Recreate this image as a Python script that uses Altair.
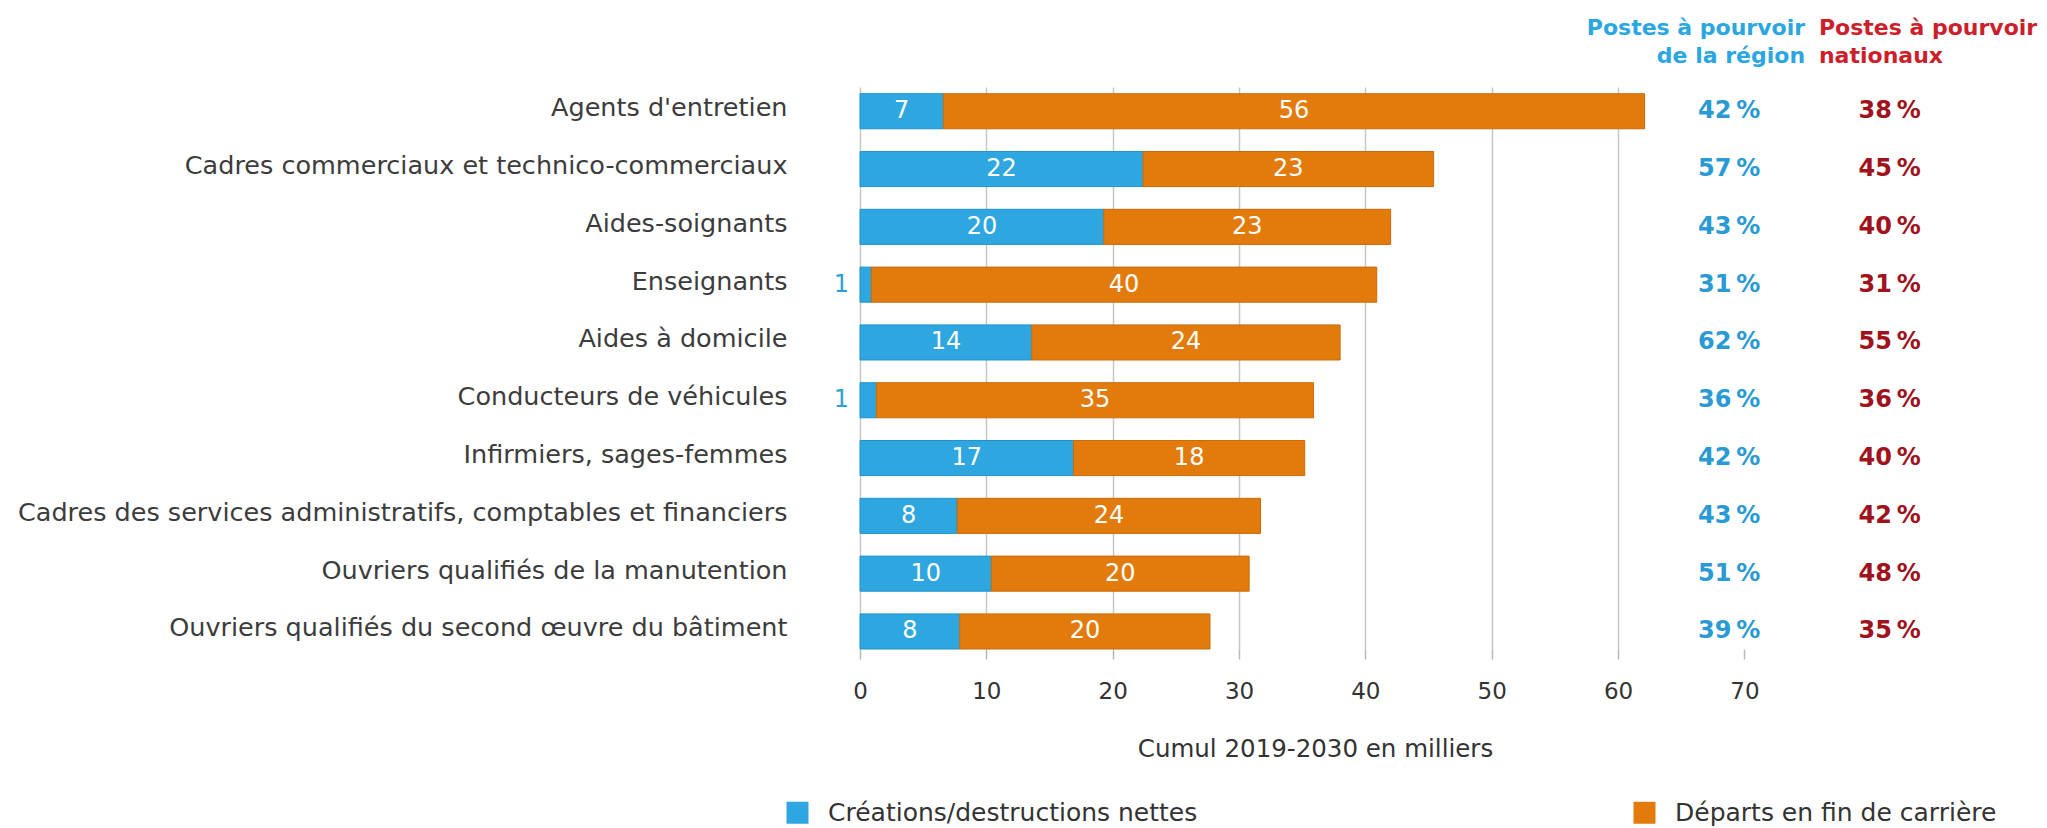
import altair as alt
import pandas as pd

occupations = [
    "Agents d'entretien",
    "Cadres commerciaux et technico-commerciaux",
    "Aides-soignants",
    "Enseignants",
    "Aides à domicile",
    "Conducteurs de véhicules",
    "Infirmiers, sages-femmes",
    "Cadres des services administratifs, comptables et financiers",
    "Ouvriers qualifiés de la manutention",
    "Ouvriers qualifiés du second œuvre du bâtiment",
]
creations = [6.6, 22.4, 19.3, 0.9, 13.6, 1.3, 16.9, 7.7, 10.4, 7.9]
departs = [55.5, 23.0, 22.7, 40.0, 24.4, 34.6, 18.3, 24.0, 20.4, 19.8]
creations_labels = [7, 22, 20, 1, 14, 1, 17, 8, 10, 8]
departs_labels = [56, 23, 23, 40, 24, 35, 18, 24, 20, 20]
region_pct = [42, 57, 43, 31, 62, 36, 42, 43, 51, 39]
national_pct = [38, 45, 40, 31, 55, 36, 40, 42, 48, 35]
series_names = ["Créations/destructions nettes", "Départs en fin de carrière"]
series_colors = ["#2ea7e0", "#e27b0b"]
stroke_colors = ["#2193c9", "#c96b08"]
x_ticks = [0, 10, 20, 30, 40, 50, 60, 70]
header_region = ["Postes à pourvoir", "de la région"]
header_national = ["Postes à pourvoir", "nationaux"]
axis_title = "Cumul 2019-2030 en milliers"

rows = []
for i, occ in enumerate(occupations):
    rows.append(dict(occ=occ, series=series_names[0], k=0, value=creations[i], label=str(creations_labels[i])))
    rows.append(dict(occ=occ, series=series_names[1], k=1, value=departs[i], label=str(departs_labels[i])))
df = pd.DataFrame(rows)

pct_df = pd.DataFrame({
    "occ": occupations,
    "region": [f"{v}\u202f%" for v in region_pct],
    "national": [f"{v}\u202f%" for v in national_pct],
})
one = pd.DataFrame({"a": [0]})

FONT = "DejaVu Sans"
W, H = 1175, 562

x_scale = alt.Scale(domain=[0, 93], nice=False, zero=True)
x_axis = alt.Axis(
    values=x_ticks, grid=True, gridColor="#c6c6c6", gridWidth=1.5,
    gridOpacity={"condition": {"test": "datum.value >= 70", "value": 0}, "value": 1},
    tickSize=10, tickColor="#b8b8b8", tickWidth=1.5, domain=False,
    labelFont=FONT, labelFontSize=23, labelColor="#333333", labelPadding=21,
    labelFlush=False,
    titleFont=FONT, titleFontSize=24.5, titleFontWeight="normal", titleColor="#333333",
    titleX=455, titleY=107, titleBaseline="alphabetic", titleAlign="center",
)
y_enc = alt.Y(
    "occ:N", sort=occupations, title=None,
    scale=alt.Scale(paddingInner=0.393, paddingOuter=0.058, align=1),
    axis=alt.Axis(ticks=False, domain=False, labelFont=FONT, labelFontSize=25.5,
                  labelColor="#3c3c3c", labelPadding=73, labelLimit=1000, labelOffset=-3),
)

bars = alt.Chart(df).mark_bar(strokeWidth=1).encode(
    x=alt.X("value:Q", stack="zero", scale=x_scale, axis=x_axis, title=axis_title),
    y=y_enc,
    color=alt.Color(
        "series:N",
        scale=alt.Scale(domain=series_names, range=series_colors),
        legend=alt.Legend(
            orient="none", legendX=-75, legendY=713, direction="horizontal",
            title=None, symbolType="square", symbolSize=484, symbolStrokeWidth=0,
            symbolOpacity=1, labelFont=FONT, labelFontSize=25, labelColor="#333333",
            labelLimit=1000, columnPadding=434, labelOffset=18, padding=0,
        ),
    ),
    stroke=alt.Stroke("series:N", scale=alt.Scale(domain=series_names, range=stroke_colors), legend=None),
    order=alt.Order("k:Q", sort="ascending"),
)

stacked = alt.Chart(df).transform_stack(
    stack="value", groupby=["occ"], as_=["x0", "x1"],
    sort=[alt.SortField("k", order="ascending")],
).transform_calculate(mid="(datum.x0 + datum.x1) / 2")

inside = stacked.transform_filter("datum.value >= 3").mark_text(
    color="white", font=FONT, fontSize=24, baseline="middle"
).encode(
    x=alt.X("mid:Q", scale=x_scale, axis=x_axis, title=axis_title),
    y=y_enc, text="label:N",
)
outside = stacked.transform_filter("datum.value < 3").mark_text(
    color="#2b9fd8", font=FONT, fontSize=24, align="right", dx=-11, baseline="middle"
).encode(
    x=alt.X("x0:Q", scale=x_scale, axis=x_axis, title=axis_title),
    y=y_enc, text="label:N",
)

region_txt = alt.Chart(pct_df).mark_text(
    color="#2a9ad4", font=FONT, fontSize=24, fontWeight="bold", baseline="middle"
).encode(
    x=alt.XDatum(68.8, scale=x_scale, axis=x_axis, title=axis_title),
    y=y_enc, text="region:N",
)
national_txt = alt.Chart(pct_df).mark_text(
    color="#a0121c", font=FONT, fontSize=24, fontWeight="bold", baseline="middle"
).encode(
    x=alt.XDatum(81.5, scale=x_scale, axis=x_axis, title=axis_title),
    y=y_enc, text="national:N",
)

head_region = alt.Chart(one).mark_text(
    text=header_region, color="#2aa6e0", font=FONT, fontSize=22, fontWeight="bold",
    align="right", baseline="alphabetic", lineHeight=28,
).encode(
    x=alt.XDatum(74.8, scale=x_scale, axis=x_axis, title=axis_title),
    y=alt.value(-52),
)
head_national = alt.Chart(one).mark_text(
    text=header_national, color="#cc1f2b", font=FONT, fontSize=22, fontWeight="bold",
    align="left", baseline="alphabetic", lineHeight=28,
).encode(
    x=alt.XDatum(75.9, scale=x_scale, axis=x_axis, title=axis_title),
    y=alt.value(-52),
)

chart = alt.layer(
    bars, inside, outside, region_txt, national_txt, head_region, head_national
).properties(
    width=W, height=H,
    background="white",
    padding={"left": 852, "top": 79, "right": 4, "bottom": 179},
    autosize=alt.AutoSizeParams(type="none"),
).configure_view(strokeWidth=0, stroke="transparent")

chart.save("out.html", embed_options={"renderer": "svg", "actions": False})
